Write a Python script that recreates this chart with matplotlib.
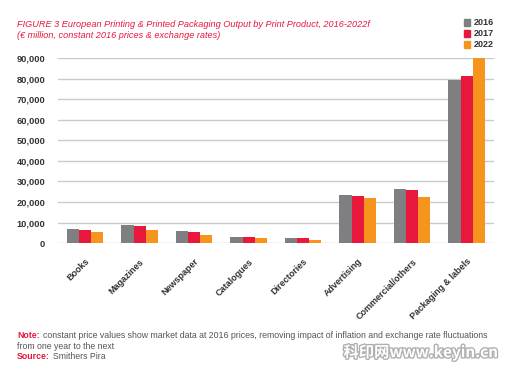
import numpy as np
import matplotlib.pyplot as plt
import matplotlib.patheffects as pe

categories = ['Books', 'Magazines', 'Newspaper', 'Catalogues', 'Directories',
              'Advertising', 'Commercial/others', 'Packaging & labels']
years = ['2016', '2017', '2022']
v2016 = [6800, 8600, 5700, 3200, 2400, 23400, 26100, 79300]
v2017 = [6300, 8100, 5200, 3200, 2250, 22900, 25600, 81200]
v2022 = [5600, 6500, 4000, 2600, 1600, 21700, 22400, 90000]
yticks = [0, 10000, 20000, 30000, 40000, 50000, 60000, 70000, 80000, 90000]

colors = ['#7f7f81', '#e8173c', '#f7941d']
red = '#e8173c'
plt.rcParams['font.family'] = ['Liberation Sans', 'DejaVu Sans']

fig = plt.figure(figsize=(5.07, 3.70), dpi=100)
ax = fig.add_axes([0.114, 0.343, 0.860, 0.500])

x = np.arange(len(categories))
w = 0.222
for i, (vals, c) in enumerate(zip([v2016, v2017, v2022], colors)):
    ax.bar(x + (i - 1) * w, vals, w, color=c, zorder=3)

ax.set_xlim(-0.5, 7.5)
ax.set_ylim(0, 90000)
ax.set_yticks(yticks)
ax.set_yticklabels([f'{t:,}' for t in yticks], fontsize=6.7, fontweight='bold', color='#333333')
ax.set_xticks(x)
ax.set_xticklabels(categories, rotation=45, ha='right', rotation_mode='anchor',
                   fontsize=6.5, fontweight='bold', color='#333333')
ax.tick_params(length=0)
ax.tick_params(axis='y', pad=9)
ax.tick_params(axis='x', pad=10)
ax.grid(axis='y', color='#c8cbcc', linewidth=1.0, zorder=0)
for s in ax.spines.values():
    s.set_visible(False)

fig.text(0.034, 0.935, 'FIGURE 3 European Printing & Printed Packaging Output by Print Product, 2016-2022f',
         color=red, fontsize=6.6, style='italic', va='center')
fig.text(0.034, 0.905, '(€ million, constant 2016 prices & exchange rates)',
         color=red, fontsize=6.6, style='italic', va='center')

for i, (y, c) in enumerate(zip(years, colors)):
    yy = 0.94 - i * 0.03
    fig.patches.append(plt.Rectangle((0.915, yy - 0.011), 0.013, 0.021, color=c,
                                     transform=fig.transFigure, figure=fig))
    fig.text(0.935, yy, y, fontsize=6.5, fontweight='bold', color='#333333', va='center')

fig.text(0.034, 0.093, 'Note:', color=red, fontsize=6.3, fontweight='bold', va='center')
fig.text(0.085, 0.093, 'constant price values show market data at 2016 prices, removing impact of inflation and exchange rate fluctuations',
         color='#555555', fontsize=6.3, va='center')
fig.text(0.034, 0.064, 'from one year to the next', color='#555555', fontsize=6.3, va='center')
fig.text(0.034, 0.036, 'Source:', color=red, fontsize=6.3, fontweight='bold', va='center')
fig.text(0.104, 0.036, 'Smithers Pira', color='#555555', fontsize=6.3, va='center')

fig.text(0.982, 0.048, '科印网www.keyin.cn', family=['Noto Sans CJK SC', 'DejaVu Sans'],
         fontsize=11, fontweight='bold', color='white', ha='right', va='center',
         path_effects=[pe.withStroke(linewidth=2, foreground='#b0b0b0')])

fig.savefig('out.png', dpi=100)
